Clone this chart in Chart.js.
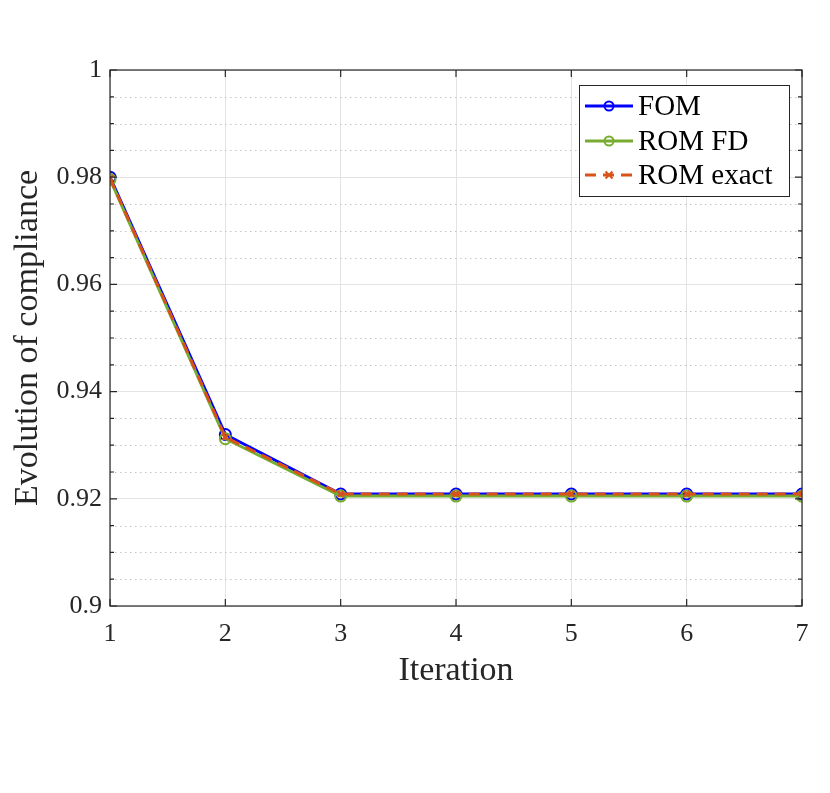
<!DOCTYPE html>
<html lang="en">
<head>
  <meta charset="UTF-8" />
  <title>Evolution of compliance</title>
  <script src="https://cdn.jsdelivr.net/npm/chart.js"></script>
  <style>
    * {
      margin: 0;
      padding: 0;
      box-sizing: border-box;
    }
    body {
      background: #fff;
    }
    #wrap {
      width: 830px;
      height: 793px;
    }
  </style>
</head>
<body>
  <div id="wrap">
    <canvas id="chartCompliance" width="830" height="793"></canvas>
  </div>

  <script>
    const iterations = [1, 2, 3, 4, 5, 6, 7];
    const fomData = [0.9800, 0.9320, 0.9209, 0.9209, 0.9209, 0.9209, 0.9209];
    const romFdData = [0.9796, 0.9312, 0.9205, 0.9205, 0.9205, 0.9205, 0.9205];
    const romExactData = [0.9798, 0.9315, 0.9209, 0.9209, 0.9209, 0.9209, 0.9209];
    const seriesLabels = ["FOM", "ROM FD", "ROM exact"];
    const yMajorTicks = [0.9, 0.92, 0.94, 0.96, 0.98, 1];

    const serif = "'Liberation Serif', 'DejaVu Serif', serif";
    const axisColor = "#262626";

    function toPoints(values) {
      return values.map((v, i) => ({ x: iterations[i], y: v }));
    }

    // minor dotted grid, inside ticks on all four sides, legend box
    const matlabAxes = {
      id: "matlabAxes",
      beforeDatasetsDraw(chart) {
        const { ctx, chartArea: a, scales: { x, y } } = chart;
        ctx.save();
        ctx.strokeStyle = "#c4c4c4";
        ctx.lineWidth = 1;
        ctx.setLineDash([1.5, 3.5]);
        for (let v = 0.9; v <= 1.0001; v += 0.005) {
          const isMajor = yMajorTicks.some(t => Math.abs(t - v) < 1e-6);
          if (isMajor) continue;
          const py = Math.round(y.getPixelForValue(v)) + 0.5;
          ctx.beginPath();
          ctx.moveTo(a.left, py);
          ctx.lineTo(a.right, py);
          ctx.stroke();
        }
        ctx.restore();
      },
      afterDraw(chart) {
        const { ctx, chartArea: a, scales: { x, y } } = chart;
        ctx.save();
        ctx.strokeStyle = axisColor;
        ctx.lineWidth = 1.2;
        ctx.setLineDash([]);
        ctx.strokeRect(a.left, a.top, a.right - a.left, a.bottom - a.top);

        // y ticks (major + minor), left and right
        for (let v = 0.9; v <= 1.0001; v += 0.005) {
          const isMajor = yMajorTicks.some(t => Math.abs(t - v) < 1e-6);
          const len = isMajor ? 7 : 4;
          const py = y.getPixelForValue(v);
          ctx.beginPath();
          ctx.moveTo(a.left, py);
          ctx.lineTo(a.left + len, py);
          ctx.moveTo(a.right, py);
          ctx.lineTo(a.right - len, py);
          ctx.stroke();
        }
        // x ticks, bottom and top
        iterations.forEach(v => {
          const px = x.getPixelForValue(v);
          ctx.beginPath();
          ctx.moveTo(px, a.bottom);
          ctx.lineTo(px, a.bottom - 7);
          ctx.moveTo(px, a.top);
          ctx.lineTo(px, a.top + 7);
          ctx.stroke();
        });

        // legend
        const bx = 579, by = 85, bw = 210, bh = 111;
        ctx.fillStyle = "#fff";
        ctx.fillRect(bx, by, bw, bh);
        ctx.strokeStyle = axisColor;
        ctx.lineWidth = 1;
        ctx.strokeRect(bx + 0.5, by + 0.5, bw, bh);

        const rows = [106, 141, 175];
        chart.data.datasets.slice().sort((p, q) => p.legendIndex - q.legendIndex).forEach((ds, i) => {
          const ry = rows[i];
          ctx.strokeStyle = ds.borderColor;
          ctx.lineWidth = ds.borderWidth;
          ctx.setLineDash(ds.borderDash || []);
          ctx.beginPath();
          ctx.moveTo(585, ry);
          ctx.lineTo(633, ry);
          ctx.stroke();
          ctx.setLineDash([]);
          ctx.lineWidth = 2;
          ctx.beginPath();
          if (ds.pointStyle === "crossRot") {
            ctx.moveTo(609 - 3.5, ry - 3.5);
            ctx.lineTo(609 + 3.5, ry + 3.5);
            ctx.moveTo(609 + 3.5, ry - 3.5);
            ctx.lineTo(609 - 3.5, ry + 3.5);
          } else {
            ctx.arc(609, ry, 4.5, 0, Math.PI * 2);
          }
          ctx.stroke();
          ctx.fillStyle = "#000";
          ctx.font = "29px " + serif;
          ctx.textBaseline = "middle";
          ctx.textAlign = "left";
          ctx.fillText(ds.label, 638, ry + 1);
        });
        ctx.restore();
      }
    };

    const ctx = document.getElementById("chartCompliance").getContext("2d");
    new Chart(ctx, {
      type: "line",
      data: {
        datasets: [
          {
            label: seriesLabels[0],
            legendIndex: 0,
            order: 3,
            data: toPoints(fomData),
            borderColor: "#0000ff",
            backgroundColor: "rgba(0,0,0,0)",
            borderWidth: 3,
            pointStyle: "circle",
            pointRadius: 5.5,
            pointBorderWidth: 2,
            pointBackgroundColor: "rgba(0,0,0,0)",
            pointBorderColor: "#0000ff",
            tension: 0
          },
          {
            label: seriesLabels[1],
            legendIndex: 1,
            order: 2,
            data: toPoints(romFdData),
            borderColor: "#77ac30",
            backgroundColor: "rgba(0,0,0,0)",
            borderWidth: 3,
            pointStyle: "circle",
            pointRadius: 5.5,
            pointBorderWidth: 2,
            pointBackgroundColor: "rgba(0,0,0,0)",
            pointBorderColor: "#77ac30",
            tension: 0
          },
          {
            label: seriesLabels[2],
            legendIndex: 2,
            order: 1,
            data: toPoints(romExactData),
            borderColor: "#d95319",
            backgroundColor: "rgba(0,0,0,0)",
            borderWidth: 3,
            borderDash: [11, 7],
            pointStyle: "crossRot",
            pointRadius: 4,
            pointBorderWidth: 2.5,
            pointBorderColor: "#d95319",
            tension: 0
          }
        ]
      },
      options: {
        responsive: false,
        animation: false,
        layout: {
          padding: { top: 70, right: 28, bottom: 0, left: 0 }
        },
        plugins: {
          legend: { display: false },
          tooltip: { enabled: false }
        },
        scales: {
          x: {
            type: "linear",
            min: 1,
            max: 7,
            afterFit: s => { s.height = 187; },
            afterBuildTicks: s => { s.ticks = iterations.map(v => ({ value: v })); },
            grid: {
              color: "#e3e3e3",
              lineWidth: 1,
              drawTicks: false
            },
            border: { display: false },
            ticks: {
              color: "#262626",
              font: { family: serif, size: 26 },
              padding: 13,
              maxRotation: 0
            },
            title: {
              display: true,
              text: "Iteration",
              color: "#262626",
              font: { family: serif, size: 34 },
              padding: { top: 0, bottom: 102 }
            }
          },
          y: {
            min: 0.9,
            max: 1,
            afterFit: s => { s.width = 110; },
            afterBuildTicks: s => { s.ticks = yMajorTicks.map(v => ({ value: v })); },
            grid: {
              color: "#e3e3e3",
              lineWidth: 1,
              drawTicks: false
            },
            border: { display: false },
            ticks: {
              color: "#262626",
              font: { family: serif, size: 26 },
              padding: 8,
              callback: v => String(Number(v.toFixed(2)))
            },
            title: {
              display: true,
              text: "Evolution of compliance",
              color: "#262626",
              font: { family: serif, size: 34 },
              padding: { top: 8, bottom: 0 }
            }
          }
        }
      },
      plugins: [matlabAxes]
    });
  </script>
</body>
</html>
